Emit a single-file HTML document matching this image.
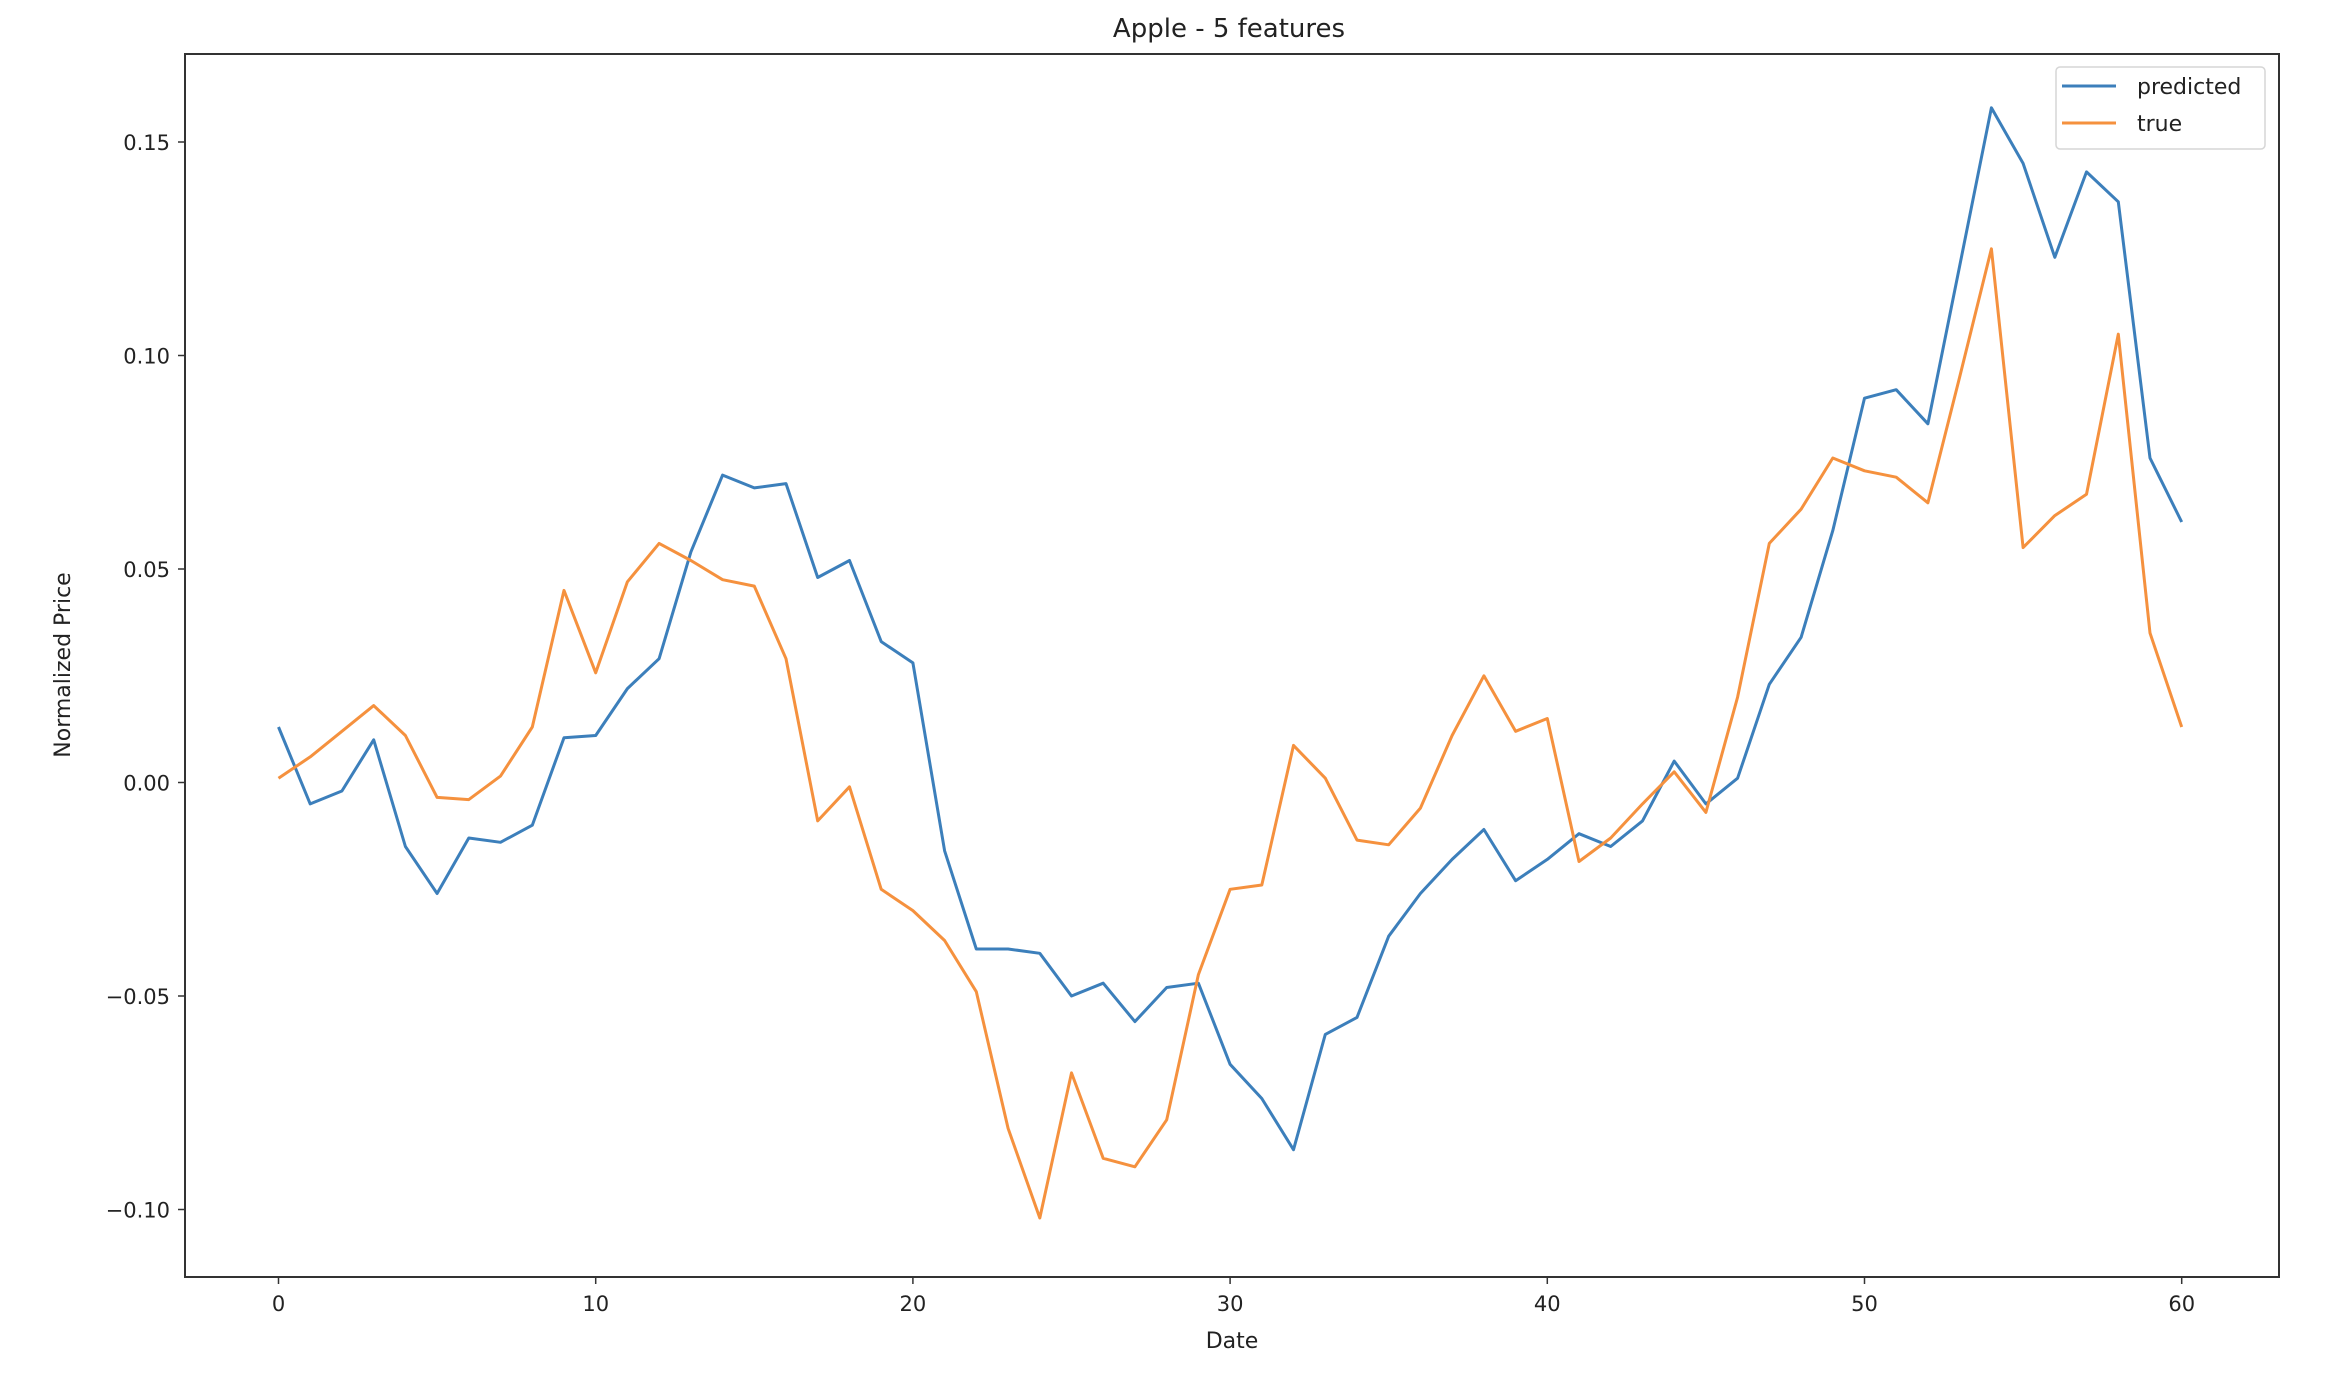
<!DOCTYPE html>
<html><head><meta charset="utf-8"><style>
html,body{margin:0;padding:0;background:#fff;width:2328px;height:1388px;overflow:hidden}
text{font-family:"DejaVu Sans","Liberation Sans",sans-serif;fill:#222}
</style></head><body>
<svg id="chart" width="2328" height="1388" xmlns="http://www.w3.org/2000/svg">
<text x="1229" y="37" font-size="26" text-anchor="middle">Apple - 5 features</text>
<g id="plot"></g>
<text x="1232" y="1348" font-size="22" text-anchor="middle">Date</text>
<text x="0" y="0" font-size="22" text-anchor="middle" transform="translate(70,665) rotate(-90)">Normalized Price</text>
<g>
<rect x="2056" y="67" width="209" height="82" rx="4" fill="#fff" fill-opacity="0.8" stroke="#d6d6d6" stroke-width="1.5"/>
<line x1="2062" y1="86" x2="2116" y2="86" stroke="#3c7fbb" stroke-width="3"/>
<text x="2137" y="94" font-size="22">predicted</text>
<line x1="2062" y1="123" x2="2116" y2="123" stroke="#f5913e" stroke-width="3"/>
<text x="2137" y="131" font-size="22">true</text>
</g>
</svg>
<script>
const xTicks = [0,10,20,30,40,50,60];
const yTicks = [-0.10,-0.05,0.00,0.05,0.10,0.15];
const yTickLabels = ["\u22120.10","\u22120.05","0.00","0.05","0.10","0.15"];
const predicted = [0.013,-0.005,-0.002,0.010,-0.015,-0.026,-0.013,-0.014,-0.010,0.0105,0.011,0.022,0.029,0.054,0.072,0.069,0.070,0.048,0.052,0.033,0.028,-0.016,-0.039,-0.039,-0.040,-0.050,-0.047,-0.056,-0.048,-0.047,-0.066,-0.074,-0.086,-0.059,-0.055,-0.036,-0.026,-0.018,-0.011,-0.023,-0.018,-0.012,-0.015,-0.009,0.005,-0.005,0.001,0.023,0.034,0.059,0.090,0.092,0.084,0.121,0.158,0.145,0.123,0.143,0.136,0.076,0.061];
const trueVals = [0.001,0.006,0.012,0.018,0.011,-0.0035,-0.004,0.0015,0.013,0.045,0.0257,0.047,0.056,0.052,0.0475,0.046,0.029,-0.009,-0.001,-0.025,-0.030,-0.037,-0.049,-0.081,-0.102,-0.068,-0.088,-0.090,-0.079,-0.045,-0.025,-0.024,0.0087,0.001,-0.0135,-0.0146,-0.006,0.011,0.025,0.012,0.015,-0.0185,-0.013,-0.005,0.0025,-0.007,0.020,0.056,0.064,0.076,0.073,0.0715,0.0655,0.095,0.125,0.055,0.0625,0.0675,0.105,0.035,0.013];

const L=185,R=2279,T=54,B=1277;
function xs(v){return 278.5+v*31.72;}
function ys(v){return 782.5-v*4270;}
const NS='http://www.w3.org/2000/svg';
const g=document.getElementById('plot');
function mk(tag,attrs){const e=document.createElementNS(NS,tag);for(const k in attrs)e.setAttribute(k,attrs[k]);return e;}

function series(vals,color,name){
  const p=mk('polyline',{points:vals.map((v,i)=>xs(i).toFixed(1)+','+ys(v).toFixed(1)).join(' '),fill:'none',stroke:color,'stroke-width':3,'stroke-linejoin':'round'});
  
  
  g.appendChild(p);
}
series(predicted,'#3c7fbb','series-predicted');
series(trueVals,'#f5913e','series-true');

const frame=mk('rect',{x:L,y:T,width:R-L,height:B-T,fill:'none',stroke:'#333','stroke-width':2});


g.appendChild(frame);

xTicks.forEach(t=>{
  const x=xs(t);
  const l=mk('line',{x1:x,y1:B,x2:x,y2:B+7,stroke:'#333','stroke-width':1.5});
  
  
  g.appendChild(l);
  const tx=mk('text',{x:x,y:1311,'font-size':21,'text-anchor':'middle'});
  tx.textContent=String(t);
  
  
  g.appendChild(tx);
});
yTicks.forEach((t,i)=>{
  const y=ys(t);
  const l=mk('line',{x1:L-7,y1:y,x2:L,y2:y,stroke:'#333','stroke-width':1.5});
  
  
  g.appendChild(l);
  const tx=mk('text',{x:170,y:y+8,'font-size':21,'text-anchor':'end'});
  tx.textContent=yTickLabels[i];
  
  
  g.appendChild(tx);
});
</script>
</body></html>
